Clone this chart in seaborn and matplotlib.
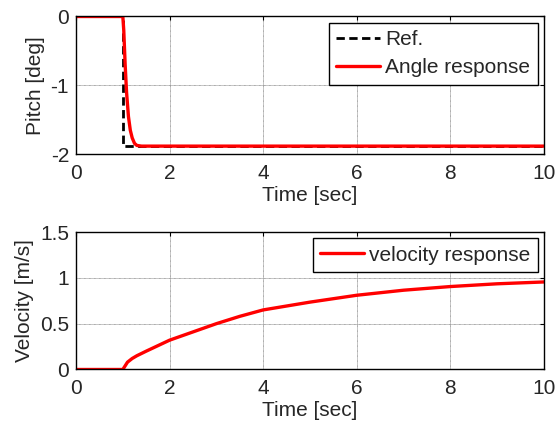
import numpy as np
import pandas as pd
import seaborn as sns
import matplotlib
matplotlib.use("Agg")
import matplotlib.pyplot as plt

# Data
ref_t = [0.0, 1.0, 1.0, 10.0]
ref_pitch = [0.0, 0.0, -1.88, -1.88]

ang_t = [0.0, 1.0, 1.02, 1.05, 1.08, 1.12, 1.16, 1.2, 1.25, 1.3, 1.4, 10.0]
ang_pitch = [0.0, 0.0, -0.2, -0.7, -1.1, -1.45, -1.65, -1.76, -1.84, -1.87, -1.88, -1.88]

vel_t = [0.0, 1.0, 1.05, 1.1, 1.2, 1.3, 1.5, 2.0, 2.5, 3.0, 3.5, 4.0, 5.0, 6.0, 7.0, 8.0, 9.0, 10.0]
vel_v = [0.0, 0.0, 0.04, 0.08, 0.12, 0.15, 0.2, 0.32, 0.41, 0.5, 0.58, 0.65, 0.735, 0.81, 0.865, 0.905, 0.935, 0.955]

x_ticks = [0, 2, 4, 6, 8, 10]
pitch_ticks = [-2, -1, 0]
vel_ticks = [0, 0.5, 1, 1.5]
vel_tick_labels = ["0", "0.5", "1", "1.5"]

FS = 15

sns.set_theme(style="white")
plt.rcParams['font.family'] = ['Liberation Sans', 'DejaVu Sans']
plt.rcParams['font.size'] = FS
plt.rcParams['xtick.direction'] = 'in'
plt.rcParams['ytick.direction'] = 'in'

fig = plt.figure(figsize=(5.55, 4.23), dpi=100)
ax1 = fig.add_axes([0.137, 0.635, 0.843, 0.326])
ax2 = fig.add_axes([0.137, 0.1265, 0.843, 0.325])

df_ref = pd.DataFrame({"t": ref_t, "y": ref_pitch})
df_ang = pd.DataFrame({"t": ang_t, "y": ang_pitch})
df_vel = pd.DataFrame({"t": vel_t, "y": vel_v})

sns.lineplot(data=df_ref, x="t", y="y", ax=ax1, color="black", lw=2,
             linestyle=(0, (3, 1.6)), label="Ref.", sort=False, estimator=None)
sns.lineplot(data=df_ang, x="t", y="y", ax=ax1, color="#ff0000", lw=2.4,
             label="Angle response", sort=False, estimator=None)
sns.lineplot(data=df_vel, x="t", y="y", ax=ax2, color="#ff0000", lw=2.4,
             label="velocity response", sort=False, estimator=None)

for ax in (ax1, ax2):
    ax.set_xlim(0, 10)
    ax.set_xticks(x_ticks)
    ax.set_xticklabels([str(v) for v in x_ticks])
    ax.set_xlabel("Time [sec]", fontsize=FS, labelpad=2)
    ax.grid(True, color="#8c8c8c", lw=0.6, linestyle=(0, (1, 0.5)))
    ax.tick_params(axis='both', which='both', direction='in', length=3,
                   width=0.8, color='black', top=True, right=True,
                   labelsize=FS)
    ax.tick_params(axis='x', pad=7)
    ax.tick_params(axis='y', pad=5)
    for s in ax.spines.values():
        s.set_color("black")
        s.set_linewidth(1.0)

leg1 = ax1.legend(loc="upper right", frameon=True, fancybox=False,
                  framealpha=1, edgecolor="black", fontsize=FS,
                  handlelength=2.1, handletextpad=0.25, borderpad=0.35,
                  labelspacing=0.45, borderaxespad=0.3)
leg1.get_frame().set_linewidth(1.0)
leg2 = ax2.legend(loc="upper right", frameon=True, fancybox=False,
                  framealpha=1, edgecolor="black", fontsize=FS,
                  handlelength=2.1, handletextpad=0.25, borderpad=0.35,
                  labelspacing=0.3, borderaxespad=0.3)
leg2.get_frame().set_linewidth(1.0)

ax1.set_ylim(-2, 0)
ax1.set_yticks(pitch_ticks)
ax1.set_yticklabels([str(v) for v in pitch_ticks])
ax1.set_ylabel("Pitch [deg]", fontsize=FS, labelpad=4)

ax2.set_ylim(0, 1.5)
ax2.set_yticks(vel_ticks)
ax2.set_yticklabels(vel_tick_labels)
ax2.set_ylabel("Velocity [m/s]", fontsize=FS, labelpad=4)

fig.savefig("out.png", dpi=100, facecolor="white")
